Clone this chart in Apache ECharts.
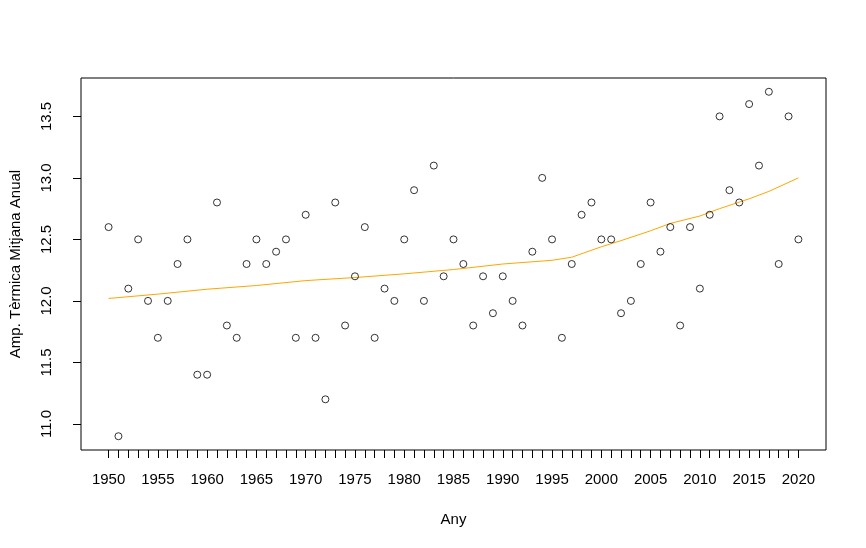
<!DOCTYPE html>
<html>
<head>
<meta charset="utf-8">
<script src="https://cdn.jsdelivr.net/npm/echarts@6/dist/echarts.min.js"></script>
<style>
  html, body { margin: 0; padding: 0; background: #fff; }
  #chart { width: 866px; height: 548px; }
</style>
</head>
<body>
<div id="chart"></div>
<script>
const years = [];
for (let y = 1950; y <= 2020; y++) years.push(y);

const ampValues = [
  12.6, 10.9, 12.1, 12.5, 12.0, 11.7, 12.0, 12.3, 12.5, 11.4,
  11.4, 12.8, 11.8, 11.7, 12.3, 12.5, 12.3, 12.4, 12.5, 11.7,
  12.7, 11.7, 11.2, 12.8, 11.8, 12.2, 12.6, 11.7, 12.1, 12.0,
  12.5, 12.9, 12.0, 13.1, 12.2, 12.5, 12.3, 11.8, 12.2, 11.9,
  12.2, 12.0, 11.8, 12.4, 13.0, 12.5, 11.7, 12.3, 12.7, 12.8,
  12.5, 12.5, 11.9, 12.0, 12.3, 12.8, 12.4, 12.6, 11.8, 12.6,
  12.1, 12.7, 13.5, 12.9, 12.8, 13.6, 13.1, 13.7, 12.3, 13.5,
  12.5
];

// corba suavitzada (lectura del gràfic)
const smoothYears = [1950, 1955, 1960, 1965, 1970, 1975, 1980, 1985, 1990, 1995,
                     1997, 2000, 2002, 2005, 2007, 2010, 2012, 2015, 2017, 2020];
const smoothValues = [12.02, 12.055, 12.095, 12.125, 12.165, 12.19, 12.22, 12.255, 12.30, 12.33,
                      12.355, 12.44, 12.49, 12.57, 12.63, 12.69, 12.75, 12.83, 12.89, 13.0];

const xTickLabels = [1950, 1955, 1960, 1965, 1970, 1975, 1980, 1985, 1990, 1995, 2000, 2005, 2010, 2015, 2020];
const yTickLabels = [11.0, 11.5, 12.0, 12.5, 13.0, 13.5];

const chart = echarts.init(document.getElementById("chart"));
const font = "Liberation Sans, Arial, sans-serif";

chart.setOption({
  animation: false,
  grid: {
    left: 78, right: 40, top: 78, bottom: 98,
    show: true, borderColor: "#000", borderWidth: 1, backgroundColor: "transparent"
  },
  xAxis: {
    type: "value",
    min: 1947.2, max: 2022.8,
    name: "Any",
    nameLocation: "middle",
    nameGap: 62,
    nameTextStyle: { fontFamily: font, fontSize: 15, color: "#000" },
    axisLine: { show: false },
    splitLine: { show: false },
    axisTick: {
      show: true, length: 8, inside: false,
      lineStyle: { color: "#000", width: 1 },
      customValues: years
    },
    axisLabel: {
      customValues: xTickLabels,
      margin: 22,
      fontFamily: font, fontSize: 15, color: "#000",
      formatter: v => String(v)
    }
  },
  yAxis: {
    type: "value",
    min: 10.788, max: 13.812,
    name: "Amp. Tèrmica Mitjana Anual",
    nameLocation: "middle",
    nameGap: 58,
    nameRotate: 90,
    nameTextStyle: { fontFamily: font, fontSize: 15, color: "#000" },
    axisLine: { show: false },
    splitLine: { show: false },
    axisTick: {
      show: true, length: 8,
      lineStyle: { color: "#000", width: 1 },
      customValues: yTickLabels
    },
    axisLabel: {
      customValues: yTickLabels,
      rotate: 90,
      margin: 27,
      fontFamily: font, fontSize: 15, color: "#000",
      formatter: v => v.toFixed(1)
    }
  },
  series: [
    {
      type: "scatter",
      symbol: "circle",
      symbolSize: 7,
      itemStyle: { color: "rgba(255,255,255,0)", borderColor: "#000", borderWidth: 1 },
      data: years.map((y, i) => [y, ampValues[i]]),
      z: 3
    },
    {
      type: "line",
      showSymbol: false,
      symbol: "none",
      lineStyle: { color: "#FFA500", width: 1 },
      data: smoothYears.map((y, i) => [y, smoothValues[i]]),
      z: 2
    }
  ]
});
</script>
</body>
</html>
